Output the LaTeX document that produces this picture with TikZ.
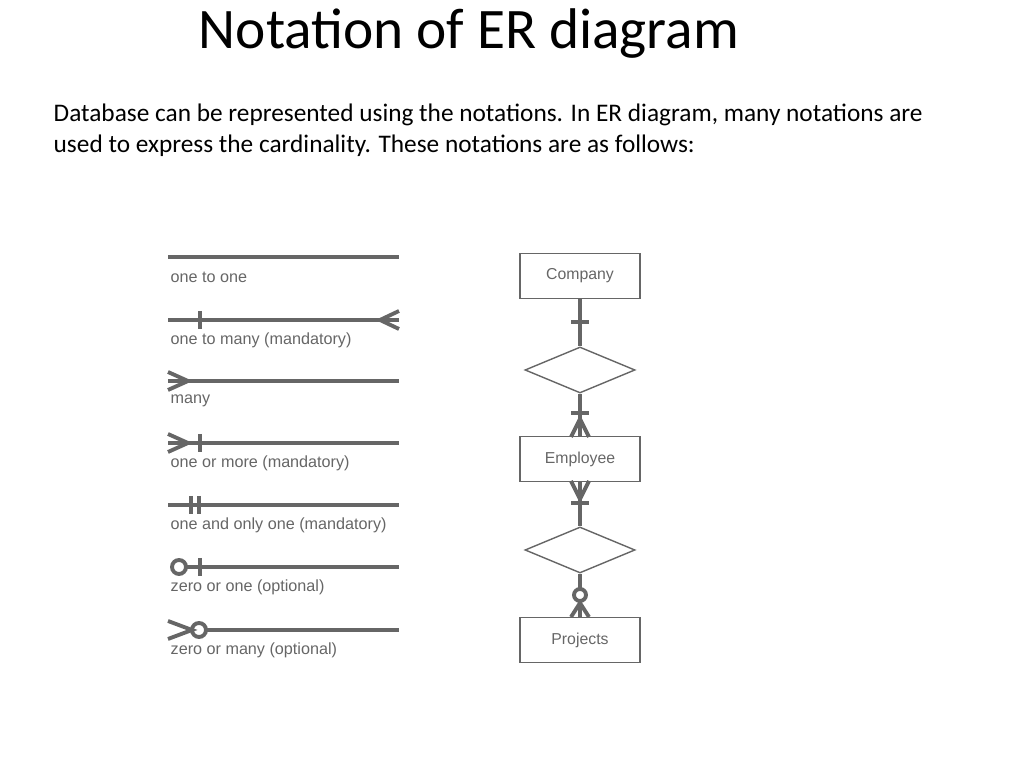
\documentclass[tikz,border=0pt]{standalone}
\usepackage{fontspec}
\setmainfont{Carlito}
\newfontfamily\arialfont{Liberation Sans}
\usetikzlibrary{shapes.geometric}
\usetikzlibrary{positioning}
\tikzset{
  erline/.style={draw=black!60, line width=1.1pt},
  entity/.style={rectangle, draw=black!60, thin, minimum width=1.2cm, minimum height=0.45cm, font=\arialfont\fontsize{4.5}{5}\selectfont, text=black!60},
  relation/.style={diamond, draw=black!60, thin, aspect=2.4, minimum width=1.1cm, minimum height=0.46cm, inner sep=0pt},
  notelabel/.style={anchor=west, inner sep=0pt, font=\arialfont\fontsize{4.6}{5}\selectfont, text=black!60}
}
\begin{document}
\begin{tikzpicture}[x=0.01cm, y=-0.01cm]
\useasboundingbox (0,0) rectangle (1024,768);

% heading and text
\node (title) at (469,34) {\fontsize{16.3}{19}\selectfont Notation of ER diagram};
\node[anchor=north west, inner sep=0pt, align=left, font=\fontsize{7.2}{8.8}\selectfont] (intro) at (53,103)
  {Database can be represented using the notations. In ER diagram, many notations are\\
   used to express the cardinality. These notations are as follows:};

% notation samples
\foreach \y/\txt [count=\i] in {257/one to one, 320/one to many (mandatory), 381/many,
    443/one or more (mandatory), 505/one and only one (mandatory),
    567/zero or one (optional), 630/zero or many (optional)} {
  \coordinate (s\i) at (168,\y);
  \coordinate (e\i) at (399,\y);
  \node[notelabel] (lab\i) at (170,\y+20) {\txt};
}
\draw[erline] (s1) -- (e1);
\draw[erline] (s2) -- (e2);
\draw[erline] (200,311) -- (200,329);
\draw[erline] (399,311) -- (380,320) -- (399,329);
\draw[erline] (s3) -- (e3);
\draw[erline] (168,372) -- (188,381) -- (168,390);
\draw[erline] (s4) -- (e4);
\draw[erline] (168,434) -- (188,443) -- (168,452);
\draw[erline] (200,434) -- (200,452);
\draw[erline] (s5) -- (e5);
\draw[erline] (191,496) -- (191,514);
\draw[erline] (199,496) -- (199,514);
\draw[erline] (186,567) -- (e6);
\draw[erline] (179,567) circle (7);
\draw[erline] (200,558) -- (200,576);
\draw[erline] (206,630) -- (e7);
\draw[erline] (199,630) circle (7);
\draw[erline] (168,621) -- (192,630) -- (168,639);

% example diagram
\node[entity] (company) at (580,276) {Company};
\node[relation] (works) at (580,370) {};
\node[entity] (employee) at (580,459) {Employee};
\node[relation] (assigned) at (580,550) {};
\node[entity] (projects) at (580,640) {Projects};

\draw[erline] (company) -- (works);
\draw[erline] (571,322) -- (589,322);
\draw[erline] (works) -- (employee);
\draw[erline] (571,413) -- (589,413);
\draw[erline] (571,437) -- (580,419) -- (589,437);
\draw[erline] (employee) -- (assigned);
\draw[erline] (571,481) -- (580,499) -- (589,481);
\draw[erline] (571,503) -- (589,503);
\draw[erline] (assigned.south) -- (580,589);
\draw[erline] (580,595) circle (6);
\draw[erline] (580,601) -- (projects.north);
\draw[erline] (571,617) -- (580,603) -- (589,617);
\end{tikzpicture}
\end{document}
